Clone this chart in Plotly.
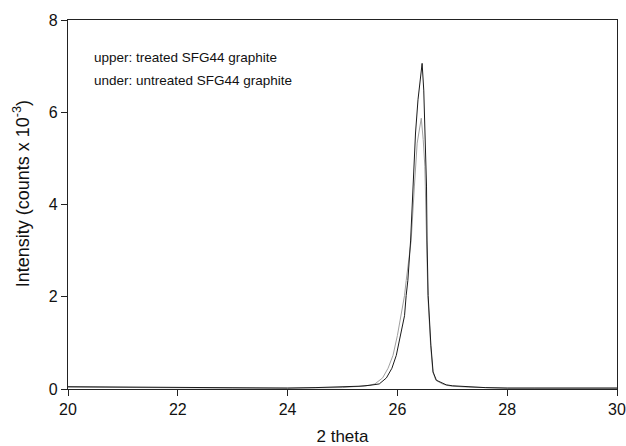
import plotly.graph_objects as go

# Treated SFG44 graphite (upper curve)
treated_x = [20.0, 21.0, 22.0, 23.0, 24.0, 24.5, 25.0, 25.3, 25.5, 25.67, 25.80, 25.90, 25.98,
             26.06, 26.13, 26.16, 26.19, 26.24, 26.28, 26.30, 26.33, 26.375, 26.45,
             26.48, 26.51, 26.53, 26.54, 26.56, 26.61, 26.65, 26.71, 26.83, 26.89,
             27.0, 27.3, 27.6, 28.0, 28.5, 29.0, 29.5, 30.0]
treated_y = [0.05, 0.04, 0.03, 0.03, 0.02, 0.03, 0.04, 0.06, 0.08, 0.11, 0.24, 0.45, 0.73,
             1.16, 1.59, 2.03, 2.35, 3.21, 4.40, 4.83, 5.55, 6.27, 7.06,
             6.48, 5.41, 4.40, 3.21, 2.03, 0.95, 0.37, 0.19, 0.12, 0.09,
             0.07, 0.05, 0.03, 0.02, 0.02, 0.02, 0.02, 0.02]

# Untreated SFG44 graphite (under curve)
untreated_x = [20.0, 21.0, 22.0, 23.0, 24.0, 24.5, 25.0, 25.2, 25.4, 25.59, 25.73, 25.83, 25.92,
               26.00, 26.07, 26.13, 26.16, 26.25, 26.31, 26.33, 26.36, 26.435,
               26.47, 26.50, 26.51, 26.535, 26.555, 26.605, 26.645, 26.70, 26.82, 26.90,
               27.0, 27.3, 27.6, 28.0, 28.5, 29.0, 29.5, 30.0]
untreated_y = [0.04, 0.03, 0.03, 0.02, 0.02, 0.02, 0.03, 0.05, 0.06, 0.11, 0.24, 0.45, 0.73,
               1.16, 1.59, 2.03, 2.35, 3.21, 4.40, 4.83, 5.33, 5.87,
               5.41, 4.83, 4.40, 3.21, 2.03, 0.95, 0.37, 0.19, 0.11, 0.08,
               0.06, 0.04, 0.03, 0.02, 0.02, 0.02, 0.02, 0.02]

x_ticks = [20, 22, 24, 26, 28, 30]
y_ticks = [0, 2, 4, 6, 8]
legend_lines = ["upper: treated SFG44 graphite", "under: untreated SFG44 graphite"]

FONT = "Liberation Sans, Arial, sans-serif"

fig = go.Figure()
fig.add_trace(go.Scatter(x=untreated_x, y=untreated_y, mode="lines",
                         line=dict(color="#a0a0a0", width=1), showlegend=False))
fig.add_trace(go.Scatter(x=treated_x, y=treated_y, mode="lines",
                         line=dict(color="#1a1a1a", width=1), showlegend=False))

for i, t in enumerate(legend_lines):
    fig.add_annotation(x=20.44, y=7.18 - i * 0.50, text=t, showarrow=False,
                       xanchor="left", yanchor="middle",
                       font=dict(family=FONT, size=13.5, color="#111"))

fig.add_annotation(xref="paper", yref="paper", x=-0.084, y=0.53,
                   text="Intensity (counts x 10<sup>-3</sup>)", textangle=-90,
                   showarrow=False, xanchor="center", yanchor="middle",
                   font=dict(family=FONT, size=18, color="#111"))

fig.update_layout(
    width=626, height=446,
    margin=dict(l=68, r=9, t=20, b=57),
    plot_bgcolor="white", paper_bgcolor="white",
    font=dict(family=FONT, color="#111"),
)
fig.update_xaxes(range=[20, 30], tickvals=x_ticks, ticks="outside", ticklen=6,
                 tickwidth=1.2, tickcolor="#222", showgrid=False, zeroline=False,
                 showline=True, linecolor="#222", linewidth=1.3, mirror=True,
                 automargin=False, ticklabeloverflow="allow",
                 tickfont=dict(size=16),
                 title=dict(text="2 theta", font=dict(size=17), standoff=13))
fig.update_yaxes(range=[0, 8], tickvals=y_ticks, ticks="outside", ticklen=6,
                 tickwidth=1.2, tickcolor="#222", showgrid=False, zeroline=False,
                 showline=True, linecolor="#222", linewidth=1.3, mirror=True,
                 automargin=False, tickfont=dict(size=16))

fig.write_html("out.html", config={"displayModeBar": False},
               post_script="document.body.style.margin='0';document.body.style.overflow='hidden';")
